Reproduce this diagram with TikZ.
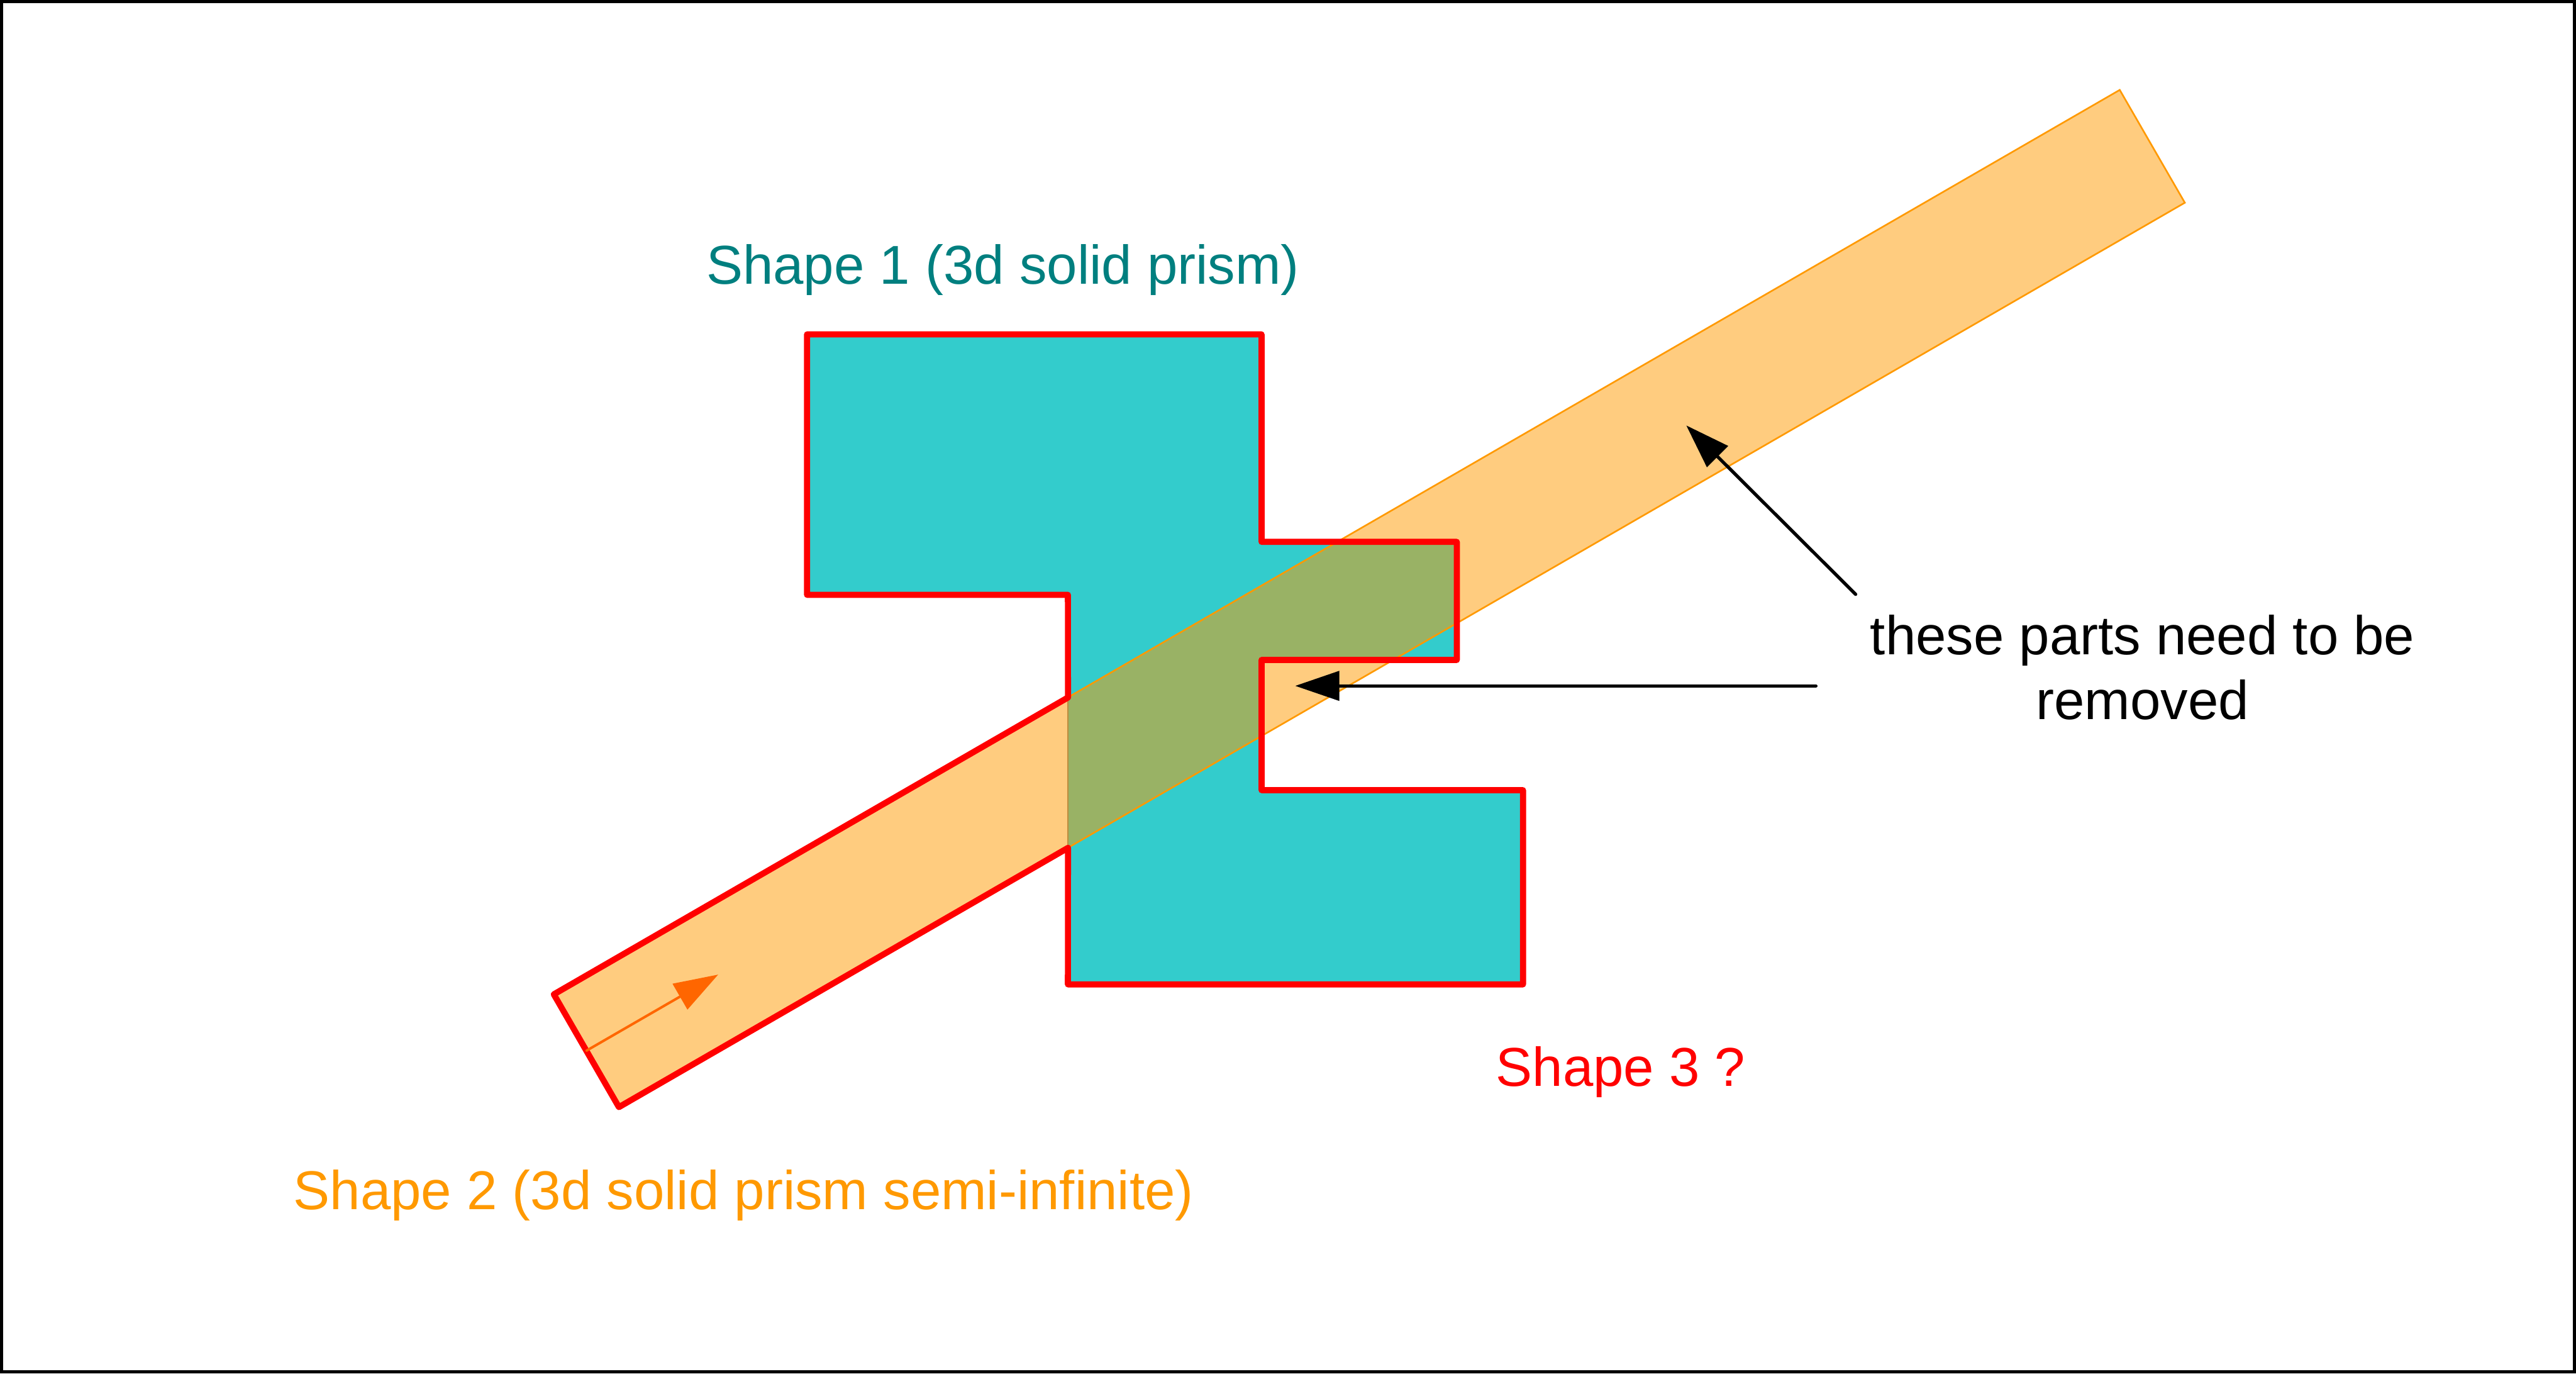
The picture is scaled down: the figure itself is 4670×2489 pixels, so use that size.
\documentclass[tikz,border=0pt]{standalone}
\usepackage{fontspec}
\setmainfont{Liberation Sans}
\usetikzlibrary{arrows.meta, positioning, calc}
\definecolor{prismteal}{HTML}{33CCCC}
\definecolor{barorange}{HTML}{FF9900}
\definecolor{labelteal}{HTML}{007F7F}
\definecolor{dirorange}{HTML}{FF6600}

\begin{document}
\begin{tikzpicture}[
    x=0.01cm, y=-0.01cm,
    prism/.style={fill=prismteal, draw=none},
    bar/.style={fill=barorange, fill opacity=0.5, draw=barorange, line width=0.3mm, line join=miter},
    outline/.style={draw=red, line width=1.1mm, line join=round},
    lbl/.style={font=\fontsize{28.2}{33.5}\selectfont, inner sep=0pt},
    arr/.style={-{Triangle[length=8mm, width=5.3mm]}, line width=0.6mm, line cap=round}
]
\useasboundingbox (0,0) rectangle (4670,2489);

% frame
\draw[line width=0.65mm] (3,3) rectangle (4667,2486);

% Shape 1 - teal prism
\coordinate (s1top) at (1936,1078);
\coordinate (s1bot) at (1936,1784);
\fill[prism] (1463,606) -- (2287,606) -- (2287,982) -- (2641,982) -- (2641,1196)
    -- (2287,1196) -- (2287,1432) -- (2761,1432) -- (2761,1784) -- (s1bot)
    -- (s1top) -- (1463,1078) -- cycle;

% Shape 2 - orange bar (30 deg)
\coordinate (A) at (1004,1802);
\coordinate (B) at (1122,2006.4);
\coordinate (C) at (3960.8,367.4);
\coordinate (D) at (3842.8,163);
\coordinate (ua) at (intersection of A--D and s1top--s1bot);
\coordinate (la) at (intersection of B--C and s1top--s1bot);
\draw[gray, line width=0.2mm] (ua) -- (la);
\filldraw[bar] (A) -- (B) -- (C) -- (D) -- cycle;

% Shape 3 - red outline
\draw[outline] (1463,606) -- (2287,606) -- (2287,982) -- (2641,982) -- (2641,1196)
    -- (2287,1196) -- (2287,1432) -- (2761,1432) -- (2761,1784) -- (s1bot)
    -- (la) -- (B) -- (A) -- (ua) -- (s1top) -- (1463,1078) -- cycle;

% direction of the bar
\coordinate (dirtail) at ($(A)!0.5!(B)$);
\coordinate (dirtip) at ($(dirtail)+(239,-138)$);
\draw[arr, draw=dirorange, fill=dirorange, line width=0.45mm] (dirtail) -- (dirtip);

% labels
\node[lbl, text=labelteal, anchor=base] (s1lbl) at (1818,515) {Shape 1 (3d solid prism)};
\node[lbl, text=barorange, anchor=base] (s2lbl) at (1348,2192) {Shape 2 (3d solid prism semi-infinite)};
\node[lbl, text=red, anchor=base] (s3lbl) at (2938,1969) {Shape 3 ?};
\node[lbl, align=center, anchor=base] (note) at (3884,1304) {these parts need to be\\removed};

% pointers
\coordinate (tailup) at (3364,1077);
\coordinate (tipup) at (3057,771);
\coordinate (tailmid) at (3292,1243);
\coordinate (tipmid) at (2348,1243);
\draw[arr] (tailup) -- (tipup);
\draw[arr] (tailmid) -- (tipmid);
\end{tikzpicture}
\end{document}
